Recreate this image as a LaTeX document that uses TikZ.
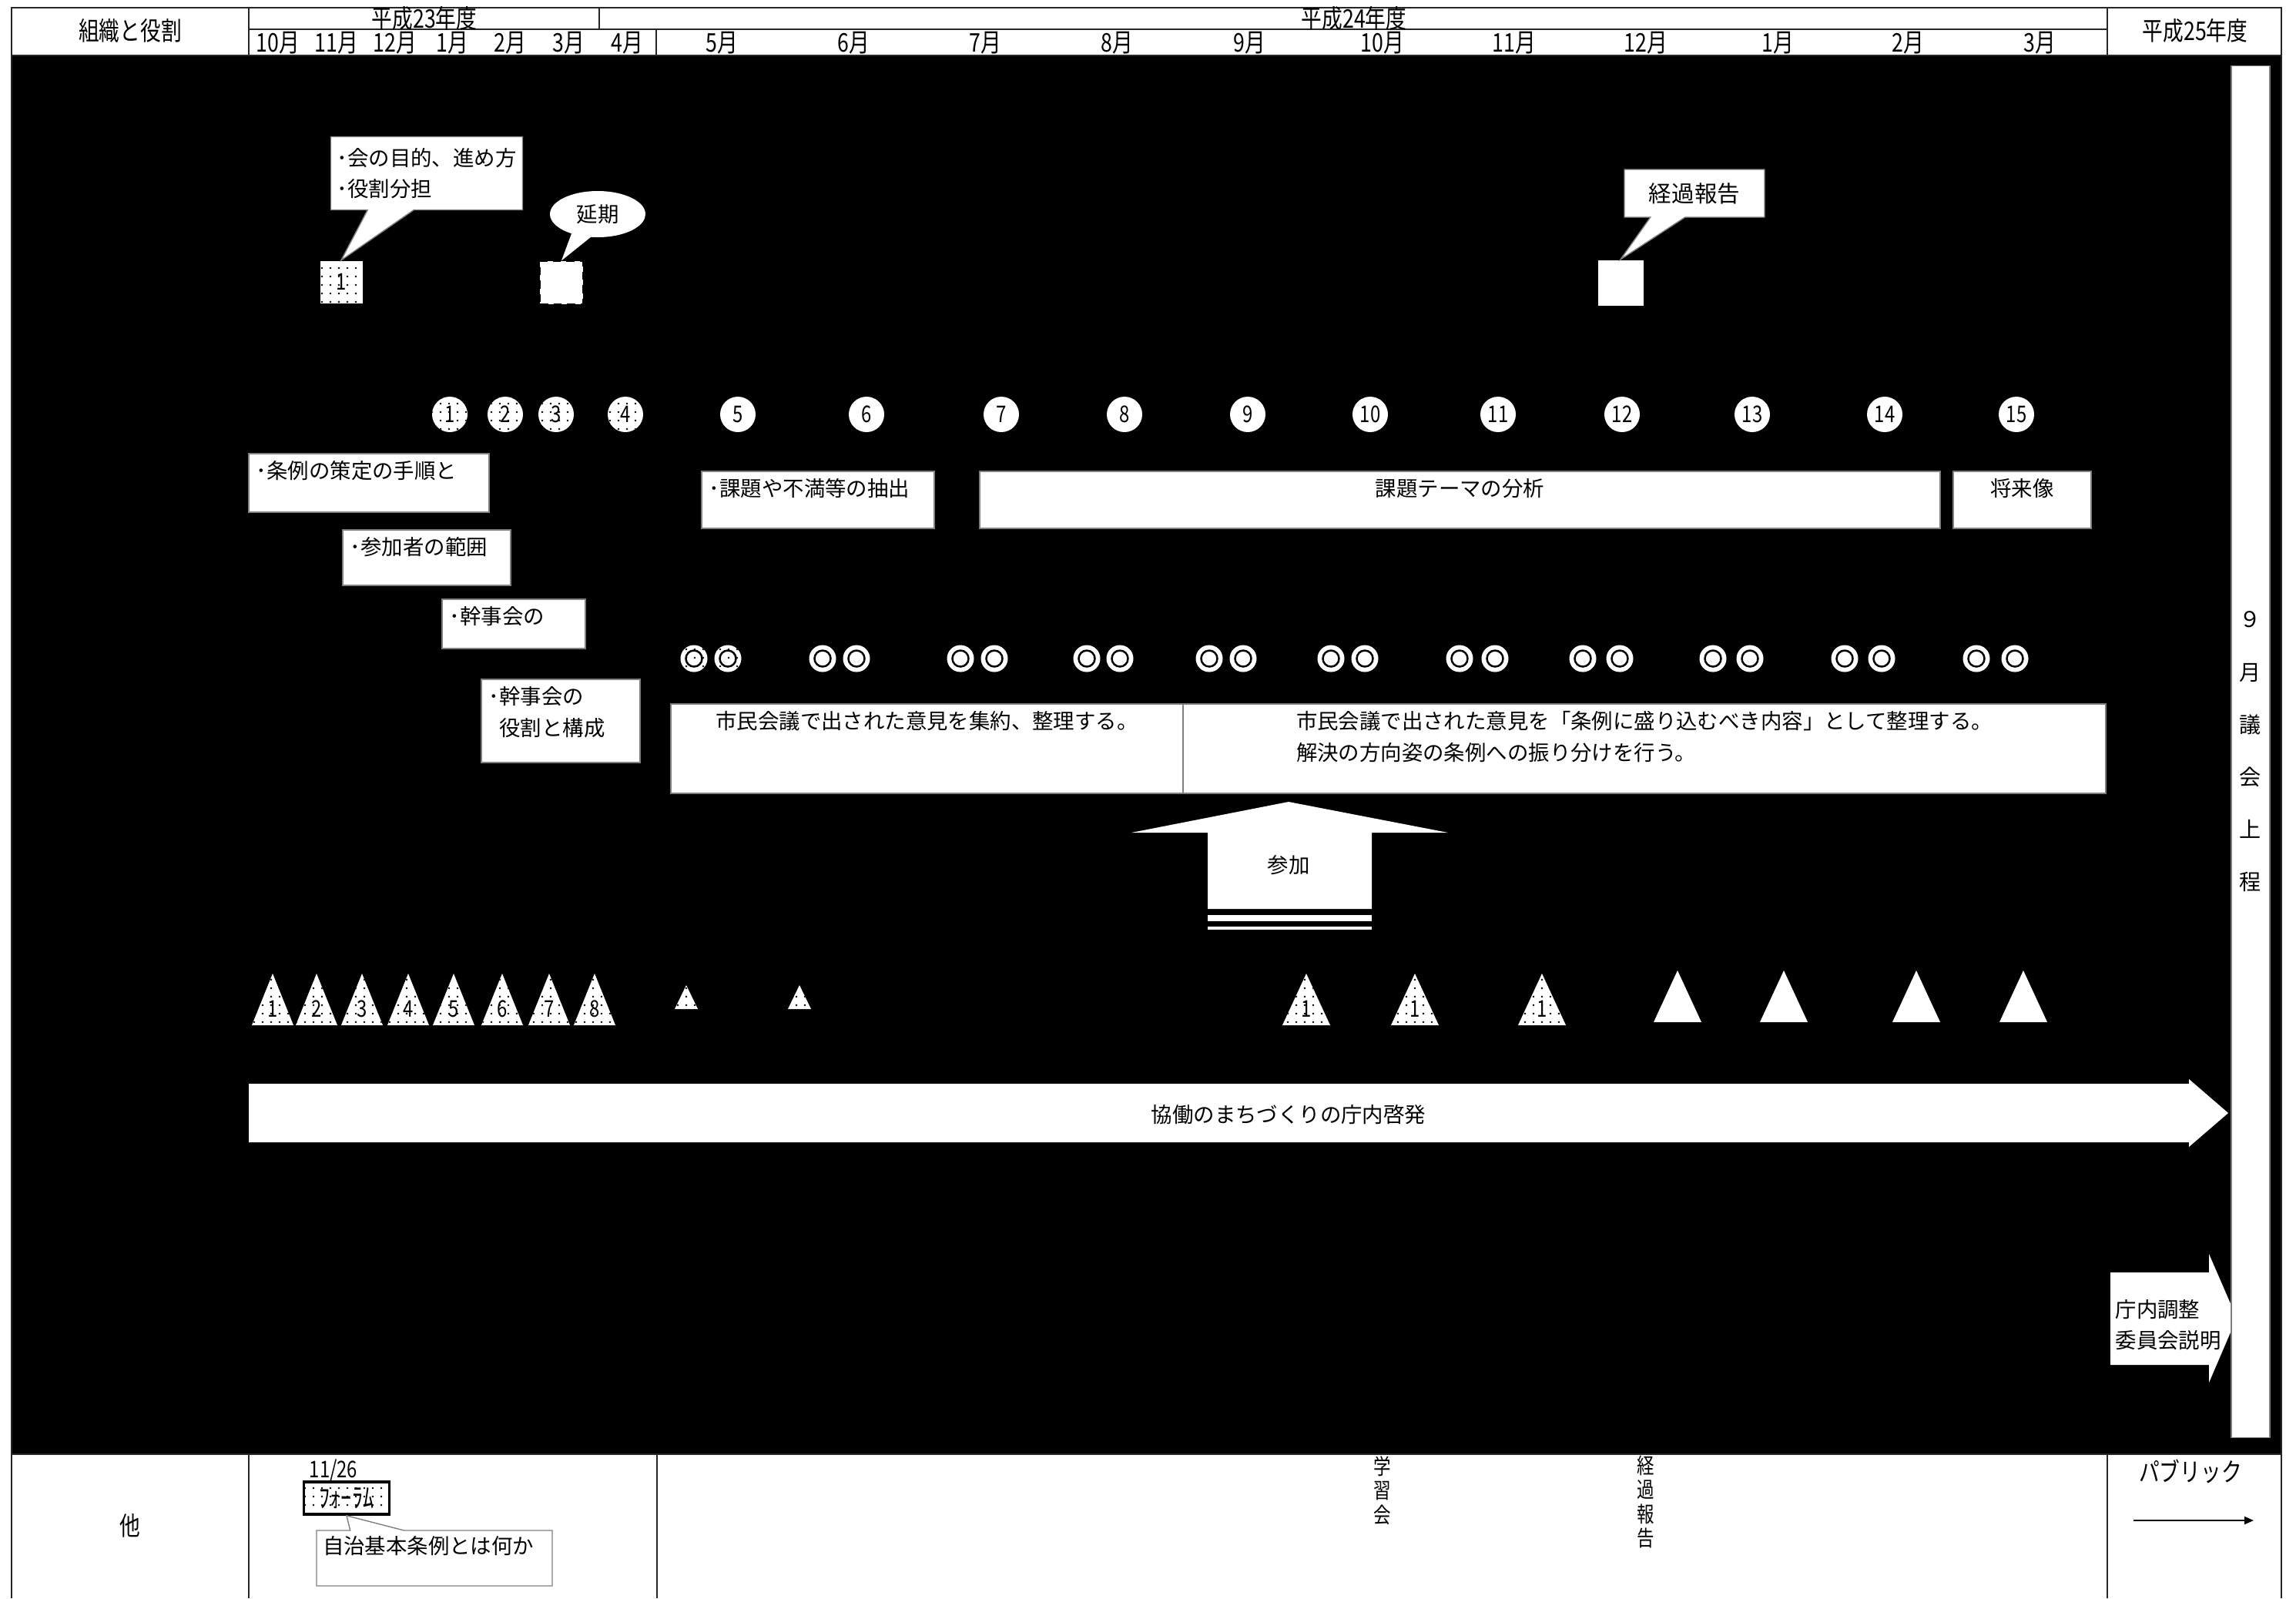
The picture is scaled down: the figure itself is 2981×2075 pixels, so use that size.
\documentclass[tikz,border=0pt]{standalone}
\usepackage{fontspec}
\newfontfamily\hdrfont[FakeStretch=0.8]{Noto Sans CJK JP}
\newfontfamily\bodyfont{Noto Sans CJK JP}
\usetikzlibrary{shapes.geometric,shapes.callouts,patterns.meta,arrows.meta}

\newcommand\hdrsize{\hdrfont\fontsize{9.5}{11}\selectfont}
\newcommand\bodysize{\bodyfont\fontsize{7.8}{11.5}\selectfont}

\tikzset{
  gridrule/.style={line width=0.15mm, black!85},
  hdr/.style={font=\hdrsize, inner sep=0pt},
  memo/.style={draw=black!50, fill=white, anchor=north west, inner sep=0pt, outer sep=0pt},
  memotext/.style={inner sep=0.9mm, align=left, font=\bodysize},
  dotfill/.style={fill=white, postaction={pattern={Dots[radius=0.4pt, distance=1.1mm]}, pattern color=black}},
  meeting/.style={circle, fill=white, minimum size=4.6mm, inner sep=0pt, font=\hdrfont\fontsize{8.5}{9}\selectfont},
  ringpair/.style={circle, fill=white, minimum size=3.5mm, inner sep=0pt,
    path picture={\draw[line width=0.25mm] (path picture bounding box.center) circle (1.05mm);}},
  balloon/.style={draw=black!50, fill=white, font=\bodysize, align=left, inner sep=0.8mm},
  trinum/.style={font=\hdrfont\fontsize{8.5}{9}\selectfont, inner sep=0pt},
}

\begin{document}
\begin{tikzpicture}[x=0.1mm, y=-0.1mm]
\useasboundingbox (0,0) rectangle (2981,2075);

% table frame
\fill (15,72) rectangle (2962,1888);
\draw[gridrule] (15,2075) -- (15,10) -- (2962,10) -- (2962,2075);
\draw[gridrule] (15,72) -- (2962,72) (323,38) -- (2736,38)
  (323,10) -- (323,72) (778,10) -- (778,38) (852,38) -- (852,72) (2736,10) -- (2736,72)
  (15,1888) -- (2962,1888) (323,1888) -- (323,2075) (853,1888) -- (853,2075) (2736,1888) -- (2736,2075);

% header
\node[hdr] (yakuwari) at (169,40) {組織と役割};
\node[hdr] (h23) at (551,24) {平成23年度};
\node[hdr] (h24) at (1758,24) {平成24年度};
\node[hdr] (h25) at (2850,40) {平成25年度};
\foreach \m/\x [count=\i] in {10/361,11/437,12/513,1/587,2/662,3/738,4/814,5/937,6/1108,
    7/1279,8/1450,9/1622,10/1795,11/1966,12/2137,1/2308,2/2477,3/2648}
  \node[hdr] (mon\i) at (\x,56) {\m 月};

% steering meetings
\node[meeting, rectangle, minimum size=5.5mm, dotfill] (sq1) at (443,366) {1};
\node[rectangle, minimum size=5.6mm, fill=white, draw=black, densely dashed, inner sep=0pt] (ensq) at (729,367) {};
\node[rectangle, minimum size=5.9mm, fill=white, inner sep=0pt] (keisq) at (2104,367) {};
\node[balloon, rectangle callout, minimum width=24.6mm, minimum height=9.5mm,
  callout absolute pointer={(sq1.north)}, callout pointer width=6mm] (mokuteki) at (554,225)
  {･会の目的、進め方\\･役割分担};
\node[ellipse callout, fill=white, minimum width=12.4mm, minimum height=6mm, inner sep=0pt,
  font=\bodysize, callout absolute pointer={(ensq.north)}, callout pointer arc=25] (enki) at (776,278) {延期};
\node[balloon, rectangle callout, minimum width=18.2mm, minimum height=6.2mm,
  font=\bodyfont\fontsize{8.4}{10}\selectfont,
  callout absolute pointer={(keisq.north)}, callout pointer width=4.5mm] (keika) at (2200,251) {経過報告};

% citizen meetings
\foreach \x [count=\i] in {584,656,722,812}
  \node[meeting, dotfill] (kai\i) at (\x,538) {\i};
\foreach \x [count=\i from 5] in {958,1125,1300,1460,1620,1779,1945,2106,2275,2447,2618}
  \node[meeting] (kai\i) at (\x,538) {\i};

% themes
\node[memo, minimum width=31.2mm, minimum height=7.6mm,
  label={[memotext, anchor=north west]north west:･条例の策定の手順と}] (tejun) at (323,589) {};
\node[memo, minimum width=21.8mm, minimum height=7.2mm,
  label={[memotext, anchor=north west]north west:･参加者の範囲}] (hani) at (445,688) {};
\node[memo, minimum width=18.6mm, minimum height=6.4mm,
  label={[memotext, anchor=north west]north west:･幹事会の}] (kanji) at (574,778) {};
\node[memo, minimum width=20.6mm, minimum height=10.8mm,
  label={[memotext, anchor=north west]north west:{･幹事会の\\\hphantom{･}役割と構成}}] (kousei) at (625,882) {};
\node[memo, minimum width=30.2mm, minimum height=7.4mm,
  label={[memotext, anchor=north west]north west:･課題や不満等の抽出}] (chushutsu) at (911,612) {};
\node[memo, minimum width=124.7mm, minimum height=7.4mm,
  label={[memotext, anchor=north]north:課題テーマの分析}] (bunseki) at (1272,612) {};
\node[memo, minimum width=17.9mm, minimum height=7.4mm,
  label={[memotext, anchor=north]north:将来像}] (shorai) at (2536,612) {};

% secretariat meetings
\node[ringpair, dotfill] (pr1-a) at (901,855) {};
\node[ringpair, dotfill] (pr1-b) at (945,855) {};
\foreach \a/\b [count=\i from 2] in {1068/1112,1247/1291,1411/1454,1570/1614,1728/1772,
    1895/1941,2055/2103,2224/2272,2395/2443,2566/2616} {
  \node[ringpair] (pr\i-a) at (\a,855) {};
  \node[ringpair] (pr\i-b) at (\b,855) {};
}
\node[memo, minimum width=66.5mm, minimum height=11.6mm,
  label={[memotext, anchor=north]north:市民会議で出された意見を集約、整理する。}] (shuyaku) at (871,914) {};
\node[memo, minimum width=119.8mm, minimum height=11.6mm,
  label={[memotext, anchor=north]north:{市民会議で出された意見を「条例に盛り込むべき内容」として整理する。\\解決の方向姿の条例への振り分けを行う。}}] (furiwake) at (1536,914) {};

% participation
\fill[white] (1568,1180) -- (1568,1081) -- (1469,1081) -- (1673,1041) -- (1880,1081)
  -- (1781,1081) -- (1781,1180) -- cycle;
\node[font=\bodysize, inner sep=0pt] (sanka) at (1673,1123) {参加};
\fill[white] (1568,1188) rectangle (1781,1196);
\fill[white] (1568,1203) rectangle (1781,1207);

% study sessions
\foreach \x [count=\i] in {354,411,470,530,589,652,713,772} {
  \path[dotfill] (\x-27,1331) -- (\x,1264) -- (\x+27,1331) -- cycle;
  \node[trinum] (ben\i) at (\x,1310) {\i};
}
\foreach \x in {891,1038}
  \path[dotfill] (\x-15,1310) -- (\x,1279) -- (\x+15,1310) -- cycle;
\foreach \x [count=\i] in {1696,1837,2002} {
  \path[dotfill] (\x-31,1331) -- (\x,1264) -- (\x+31,1331) -- cycle;
  \node[trinum] (kensh\i) at (\x,1310) {1};
}
\foreach \x in {2178,2316,2488,2627}
  \fill[white] (\x-31,1327) -- (\x,1260) -- (\x+31,1327) -- cycle;

% awareness in the office
\fill[white] (323,1407) -- (2842,1407) -- (2842,1401) -- (2893,1445) -- (2842,1489)
  -- (2842,1483) -- (323,1483) -- cycle;
\node[font=\bodysize, inner sep=0pt] (keihatsu) at (1673,1447) {協働のまちづくりの庁内啓発};

% coordination before the assembly
\fill[white] (2740,1652) -- (2868,1652) -- (2868,1628) -- (2904,1711) -- (2868,1795)
  -- (2868,1772) -- (2740,1772) -- cycle;
\node[memotext, inner sep=0pt, anchor=west] (chosei) at (2746,1720) {庁内調整\\委員会説明};
\node[draw=black!50, fill=white, inner sep=0pt, minimum width=5mm, minimum height=178.1mm,
  align=center, font=\bodyfont\fontsize{8}{19.4}\selectfont] (gikai) at (2922,976) {９\\月\\議\\会\\上\\程};

% others
\node[hdr] (sonota) at (169,1981) {他};
\node[trinum] (fdate) at (433,1909) {11/26};
\node[dotfill, draw=black, line width=0.35mm, minimum width=11.1mm, minimum height=4.2mm,
  inner sep=0pt, font=\hdrfont\fontsize{10}{11}\selectfont] (forum) at (450,1945) {ﾌｫｰﾗﾑ};
\node[balloon, rectangle callout, text width=29mm, text height=2.2mm, text depth=3.4mm,
  callout absolute pointer={(forum.south)}, callout pointer width=7mm] (kihon) at (564,2023) {自治基本条例とは何か};
\node[hdr, align=center, font=\hdrfont\fontsize{8}{8.9}\selectfont] (gakushu) at (1795,1935) {学\\習\\会};
\node[hdr, align=center, font=\hdrfont\fontsize{8}{8.9}\selectfont] (hokoku) at (2137,1950) {経\\過\\報\\告};
\node[hdr] (public) at (2844,1910) {パブリック};
\coordinate (pub-a) at (2770,1974);
\coordinate (pub-b) at (2926,1974);
\draw[line width=0.2mm, -{Triangle[length=1.2mm, width=1mm]}] (pub-a) -- (pub-b);
\end{tikzpicture}
\end{document}
